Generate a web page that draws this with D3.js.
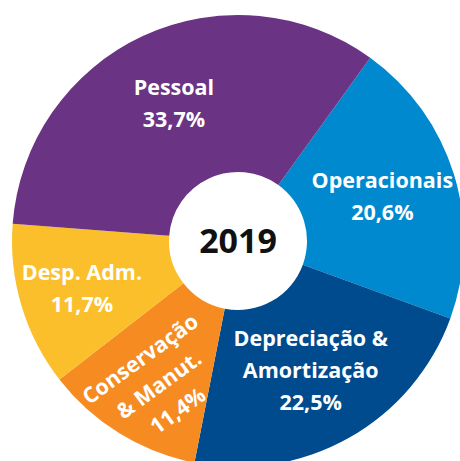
<!DOCTYPE html>
<html>
<head>
<meta charset="utf-8">
<script src="https://cdn.jsdelivr.net/npm/d3@7"></script>
<style>
  body { margin: 0; background: #fff; }
  text { font-family: "Open Sans", sans-serif; font-weight: bold; }
</style>
</head>
<body>
<div id="chart"></div>
<script>
// slices, clockwise starting from the Operacionais edge
var categories = ["Operacionais", "Depreciação & Amortização", "Conservação & Manut.", "Desp. Adm.", "Pessoal"];
var labelLines = [["Operacionais"], ["Depreciação &", "Amortização"], ["Conservação", "& Manut."], ["Desp. Adm."], ["Pessoal"]];
var values = [20.6, 22.5, 11.4, 11.7, 33.7];
var year = "2019";

var colors = ["#0089cf", "#004b8d", "#f58b21", "#fcbf2c", "#6a3383"];
// label placement: radius, angle nudge (deg) from slice middle, text rotation
var labelRadius = [151, 148, 164, 163, 152];
var labelNudge = [0, 0, -2.8, 0, 0];
var labelRotate = [0, 0, -36, 0, 0];

var W = 460, H = 461,
    cx = 238, cy = 241,
    outerR = 226, innerR = 69,
    lineH = 32;

var svg = d3.select("#chart").append("svg")
    .attr("width", W)
    .attr("height", H);

var g = svg.append("g")
    .attr("transform", "translate(" + cx + "," + cy + ")");

var data = categories.map(function(c, i) {
    return {name: c, value: values[i], lines: labelLines[i].concat([d3.format(".1f")(values[i]).replace(".", ",") + "%"]), i: i};
});

var start = 35.8 * Math.PI / 180;
var pie = d3.pie()
    .sort(null)
    .startAngle(start)
    .endAngle(start + 2 * Math.PI)
    .value(function(d) { return d.value; });

var path = d3.arc().outerRadius(outerR).innerRadius(innerR);

var arcs = g.selectAll(".arc")
    .data(pie(data))
    .enter().append("g")
        .attr("class", "arc");

arcs.append("path")
    .attr("d", path)
    .attr("fill", function(d) { return colors[d.data.i]; });

arcs.append("text")
    .attr("transform", function(d) {
        var i = d.data.i, r = labelRadius[i];
        var a = (d.startAngle + d.endAngle) / 2 + labelNudge[i] * Math.PI / 180;
        var c = [r * Math.sin(a), -r * Math.cos(a)];
        return "translate(" + c + ") rotate(" + labelRotate[i] + ")";
    })
    .attr("text-anchor", "middle")
    .attr("fill", "#fff")
    .style("font-size", "21.5px")
    .each(function(d) {
        var t = d3.select(this), n = d.data.lines.length;
        d.data.lines.forEach(function(line, k) {
            t.append("tspan")
                .attr("x", 0)
                .attr("y", (k - (n - 1) / 2) * lineH)
                .attr("dy", "0.36em")
                .text(line);
        });
    });

g.append("text")
    .attr("text-anchor", "middle")
    .attr("dy", "0.36em")
    .attr("fill", "#111")
    .style("font-size", "34px")
    .text(year);
</script>
</body>
</html>
